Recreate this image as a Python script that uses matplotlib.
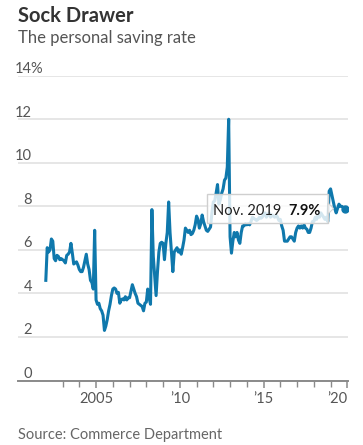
import matplotlib
matplotlib.use('Agg')
import matplotlib.pyplot as plt
import matplotlib.transforms as mtransforms
from matplotlib.patches import Rectangle, Polygon

plt.rcParams['font.family'] = ['Lato', 'DejaVu Sans']

# ---- data: personal saving rate, monthly, %, starting Jan 2002 ----
start_year = 2002
rate_2002 = [4.6, 6.1, 5.9, 6.0, 6.5, 6.4, 5.6, 5.5, 5.75, 5.7, 5.55, 5.6]
rate_2003 = [5.55, 5.5, 5.4, 5.75, 5.8, 5.9, 6.3, 5.85, 5.35, 5.4, 5.45, 5.3]
rate_2004 = [5.1, 5.0, 5.0, 5.2, 5.5, 5.8, 5.35, 5.1, 4.6, 4.5, 4.2, 6.9]
rate_2005 = [3.7, 3.5, 3.55, 3.3, 3.2, 3.0, 2.3, 2.5, 2.8, 3.2, 3.5, 3.9]
rate_2006 = [4.2, 4.25, 4.2, 4.0, 4.05, 3.55, 3.7, 3.75, 3.7, 3.85, 3.7, 3.8]
rate_2007 = [3.8, 4.1, 4.4, 4.2, 4.0, 3.85, 3.55, 3.5, 3.45, 3.4, 3.2, 3.55]
rate_2008 = [3.6, 4.2, 3.8, 3.5, 7.85, 5.7, 4.8, 3.9, 5.0, 5.9, 6.3, 6.35]
rate_2009 = [6.3, 5.55, 6.3, 6.8, 8.2, 6.8, 5.9, 5.0, 5.9, 6.0, 6.1, 5.9]
rate_2010 = [6.0, 5.8, 6.1, 6.45, 7.0, 6.9, 6.8, 6.9, 6.7, 6.75, 6.9, 7.15]
rate_2011 = [7.55, 7.4, 7.0, 7.2, 7.6, 7.3, 7.1, 6.9, 6.85, 6.95, 7.05, 7.7]
rate_2012 = [8.2, 8.25, 8.6, 9.0, 8.1, 8.3, 8.6, 8.8, 9.2, 9.3, 9.8, 12.0]
rate_2013 = [6.6, 5.85, 6.4, 6.8, 6.6, 6.8, 6.45, 6.3, 6.8, 7.1, 7.1, 7.2]
rate_2014 = [7.15, 7.2, 7.15, 7.3, 7.5, 7.45, 7.4, 7.35, 7.4, 7.5, 7.45, 7.5]
rate_2015 = [7.6, 7.7, 7.5, 7.6, 7.7, 7.5, 7.6, 7.55, 7.5, 7.6, 7.5, 7.35]
rate_2016 = [7.4, 7.1, 6.9, 6.4, 6.4, 6.4, 6.5, 6.6, 6.6, 6.5, 6.4, 6.8]
rate_2017 = [7.0, 7.1, 7.0, 7.1, 7.0, 7.15, 7.0, 6.95, 6.8, 6.8, 7.0, 7.3]
rate_2018 = [7.3, 7.5, 7.4, 7.6, 7.5, 7.7, 7.6, 7.5, 7.4, 7.5, 7.3, 8.7]
rate_2019 = [8.8, 8.5, 8.2, 7.9, 7.7, 7.9, 8.1, 8.0, 8.0, 7.95, 7.9]

series = (rate_2002 + rate_2003 + rate_2004 + rate_2005 + rate_2006 + rate_2007 +
          rate_2008 + rate_2009 + rate_2010 + rate_2011 + rate_2012 + rate_2013 +
          rate_2014 + rate_2015 + rate_2016 + rate_2017 + rate_2018 + rate_2019)
dates = [start_year + i / 12 for i in range(len(series))]

highlight_label = "Nov. 2019"
highlight_value_text = "7.9%"

y_ticks = [0, 2, 4, 6, 8, 10, 12, 14]
y_labels = ['0', '2', '4', '6', '8', '10', '12', '14']
x_major = [2005, 2010, 2015, 2020]
x_major_labels = ['2005', '\u201910', '\u201915', '\u201920']
x_minor = [2003, 2004, 2006, 2007, 2008, 2009, 2011, 2012, 2013, 2014,
           2016, 2017, 2018, 2019]

title = "Sock Drawer"
subtitle = "The personal saving rate"
source = "Source: Commerce Department"

# ---- figure ----
W, H = 363, 445
fig = plt.figure(figsize=(W / 100, H / 100), dpi=100)
ax = fig.add_axes([18 / W, (H - 380.5) / H, 330 / W, (380.5 - 75.7) / H])
ax.set_xlim(2000.34, 2020.04)
ax.set_ylim(0, 14)

for s in ['top', 'right', 'left']:
    ax.spines[s].set_visible(False)
ax.spines['bottom'].set_color('#8a8a8a')
ax.spines['bottom'].set_linewidth(1.4)

ax.set_yticks(y_ticks)
ax.yaxis.grid(True, color='#e4e4e4', linewidth=1.3)
ax.set_axisbelow(True)
ax.tick_params(axis='y', length=0, labelleft=False)

label_color = '#555555'
ytrans = ax.get_yaxis_transform() + mtransforms.ScaledTranslation(0, 2.5 / 100, fig.dpi_scale_trans)
xr = 14 / 330
for v, lab in zip(y_ticks, y_labels):
    ax.text(xr, v, lab, transform=ytrans, ha='right', va='baseline',
            fontsize=10.5, color=label_color)
ptrans = ytrans + mtransforms.ScaledTranslation(-1.5 / 100, 0, fig.dpi_scale_trans)
ax.text(xr, y_ticks[-1], '%', transform=ptrans, ha='left', va='baseline',
        fontsize=10.5, color=label_color)

ax.set_xticks(x_major)
ax.set_xticklabels(x_major_labels)
ax.set_xticks(x_minor, minor=True)
ax.tick_params(axis='x', which='major', length=5, width=1.1, color='#8a8a8a',
               labelsize=10.5, labelcolor=label_color, pad=3)
ax.tick_params(axis='x', which='minor', length=4, width=1.0, color='#8a8a8a')
xl = ax.get_xticklabels()
xl[-1].set_ha('right')

line_color = '#0f78ac'
ax.plot(dates, series, color=line_color, linewidth=2.2, solid_joinstyle='round', zorder=3)
ax.plot([dates[-1]], [series[-1]], 'o', color=line_color, markersize=5, zorder=4)

# ---- tooltip ----
off = fig.dpi_scale_trans + mtransforms.ScaledTranslation(dates[-1], series[-1], ax.transData)
box = Rectangle((-1.375, -0.145), 1.21, 0.295, transform=off, facecolor='white',
                alpha=0.82, edgecolor='none', zorder=5, clip_on=False)
ax.add_patch(box)
ax.add_patch(Rectangle((-1.375, -0.145), 1.21, 0.295, transform=off, facecolor='none',
                       edgecolor='#cfcfcf', linewidth=1.0, zorder=6, clip_on=False))
ax.add_patch(Polygon([(-0.165, -0.055), (-0.165, 0.055), (-0.11, 0.0)], closed=True,
                     transform=off, facecolor='white', edgecolor='#cfcfcf', linewidth=0.8,
                     alpha=0.9, zorder=6, clip_on=False))
ax.text(-1.315, -0.06, highlight_label, transform=off, ha='left', va='baseline',
        fontsize=10.5, color='#222222', zorder=7)
ax.text(-0.24, -0.06, highlight_value_text, transform=off, ha='right', va='baseline',
        fontsize=10.5, fontweight='bold', color='#111111', zorder=7)

# ---- titles ----
fig.text(18 / W, 1 - 22 / H, title, ha='left', va='baseline', fontsize=14.5,
         fontweight='bold', color='#333333')
fig.text(18 / W, 1 - 43.5 / H, subtitle, ha='left', va='baseline', fontsize=12,
         color='#555555')
fig.text(18 / W, 1 - 439 / H, source, ha='left', va='baseline', fontsize=10.5,
         color='#666666')

fig.savefig('out.png', dpi=100)
